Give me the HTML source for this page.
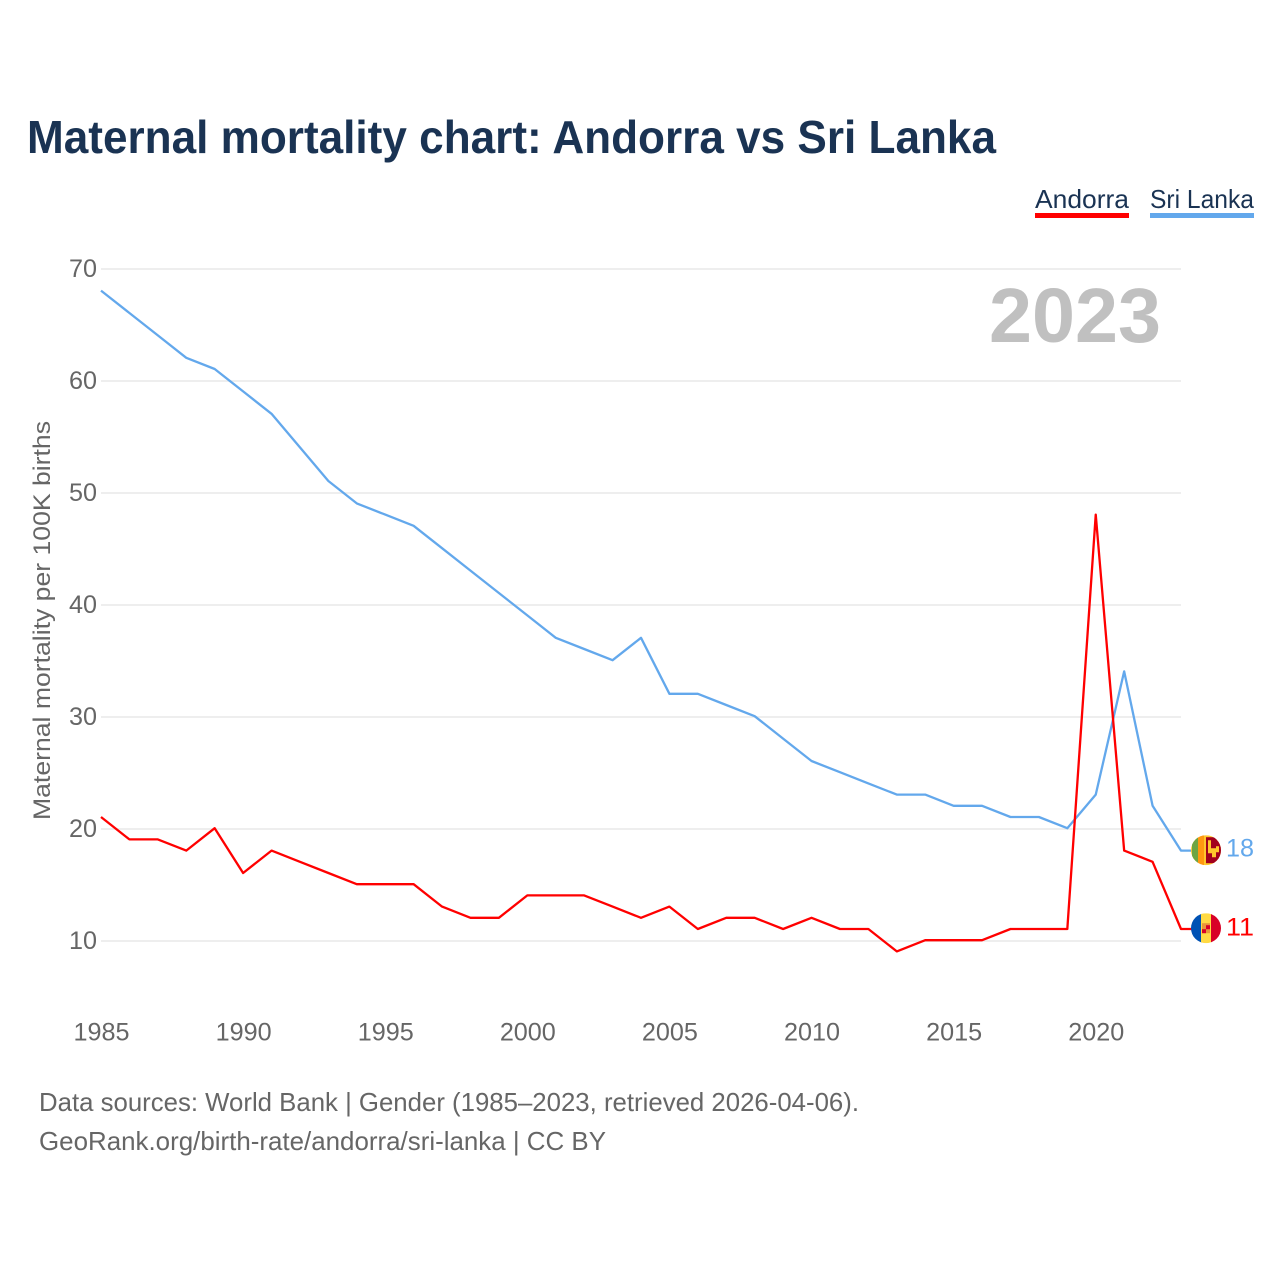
<!DOCTYPE html>
<html lang="en">
<head>
<meta charset="utf-8">
<title>Maternal mortality chart: Andorra vs Sri Lanka</title>
<style>
html,body{margin:0;padding:0;background:#fff;}
svg{display:block;font-family:"Liberation Sans",sans-serif;}
</style>
</head>
<body>
<svg id="chart" xmlns="http://www.w3.org/2000/svg" width="1280" height="1280" viewBox="0 0 1280 1280">
  <rect width="1280" height="1280" fill="#fff"/>
  <text x="27" y="153" font-size="46" font-weight="700" fill="#1a3353" textLength="969" lengthAdjust="spacingAndGlyphs">Maternal mortality chart: Andorra vs Sri Lanka</text>

  <g>
    <text x="1035" y="208" font-size="26" fill="#1a3353" textLength="94" lengthAdjust="spacingAndGlyphs">Andorra</text>
    <rect x="1035" y="213" width="94" height="5" fill="#ff0000"/>
  </g>
  <g>
    <text x="1150" y="208" font-size="26" fill="#1a3353" textLength="104" lengthAdjust="spacingAndGlyphs">Sri Lanka</text>
    <rect x="1150" y="213" width="104" height="5" fill="#63a8ec"/>
  </g>

  <g id="grid"></g>
  <g id="yticks"></g>
  <g id="xticks"></g>

  <text transform="translate(50,820) rotate(-90)" font-size="24" fill="#666" textLength="399" lengthAdjust="spacingAndGlyphs">Maternal mortality per 100K births</text>
  <text x="989" y="342" font-size="77" font-weight="700" fill="#c0c0c0" textLength="172" lengthAdjust="spacingAndGlyphs">2023</text>

  <g id="series"></g>

  <defs>
    <clipPath id="clip-lk"><circle id="clip-lk-c" cx="1206" cy="850" r="15"/></clipPath>
    <clipPath id="clip-ad"><circle id="clip-ad-c" cx="1206" cy="928" r="15"/></clipPath>
  </defs>
  <g id="flag-lk" clip-path="url(#clip-lk)">
    <rect x="1191" y="835" width="30" height="30" fill="#ffc72c"/>
    <rect x="1192" y="835" width="6" height="30" fill="#6da544"/>
    <rect x="1198" y="835" width="6" height="30" fill="#ff9811"/>
    <rect x="1206" y="837" width="15" height="26" fill="#a2001d"/>
    <path d="M1208 840h3v8h5v-2h3v6h-3v5h-4v-4h-4z" fill="#ffc72c"/>
  </g>
  <g id="flag-ad" clip-path="url(#clip-ad)">
    <rect x="1191" y="913" width="11" height="30" fill="#0052b4"/>
    <rect x="1201" y="913" width="11" height="30" fill="#ffda44"/>
    <rect x="1211" y="913" width="11" height="30" fill="#d80027"/>
    <rect x="1202" y="923" width="8" height="10" fill="#e8973a"/>
    <rect x="1206" y="925" width="4" height="4" fill="#d80027"/>
    <rect x="1202" y="929" width="4" height="4" fill="#d80027"/>
  </g>

  <text x="39" y="1111" font-size="26" fill="#666" textLength="820" lengthAdjust="spacingAndGlyphs">Data sources: World Bank | Gender (1985–2023, retrieved 2026-04-06).</text>
  <text x="39" y="1150" font-size="26" fill="#666" textLength="567" lengthAdjust="spacingAndGlyphs">GeoRank.org/birth-rate/andorra/sri-lanka | CC BY</text>
</svg>
<script>
var years = [1985,1986,1987,1988,1989,1990,1991,1992,1993,1994,1995,1996,1997,1998,1999,2000,2001,2002,2003,2004,2005,2006,2007,2008,2009,2010,2011,2012,2013,2014,2015,2016,2017,2018,2019,2020,2021,2022,2023];
var sriLanka = [68,66,64,62,61,59,57,54,51,49,48,47,45,43,41,39,37,36,35,37,32,32,31,30,28,26,25,24,23,23,22,22,21,21,20,23,34,22,18];
var andorra = [21,19,19,18,20,16,18,17,16,15,15,15,13,12,12,14,14,14,13,12,13,11,12,12,11,12,11,11,9,10,10,10,11,11,11,48,18,17,11];
var yTickValues = [10,20,30,40,50,60,70];
var xTickValues = [1985,1990,1995,2000,2005,2010,2015,2020];

var NS = 'http://www.w3.org/2000/svg';
function xScale(year){ return 101 + (year - 1985) * (1080 / 38); }
function yScale(v){ return 941 - (v - 10) * 11.2; }
function lineY(v){ return yScale(v) - 0.8; }
function make(tag, attrs, parent){
  var el = document.createElementNS(NS, tag);
  for (var k in attrs) el.setAttribute(k, attrs[k]);
  parent.appendChild(el);
  return el;
}
var grid = document.getElementById('grid');
var yticks = document.getElementById('yticks');
var xticks = document.getElementById('xticks');
var seriesGroup = document.getElementById('series');
var root = document.getElementById('chart');

yTickValues.forEach(function(v){
  var line = make('line', {x1:101, x2:1181, y1:yScale(v), y2:yScale(v), stroke:'#eeeeee', 'stroke-width':2}, grid);
  
  
  var t = make('text', {x:69, y:yScale(v)+8, 'font-size':25, fill:'#666', textLength:28, lengthAdjust:'spacingAndGlyphs'}, yticks);
  t.textContent = String(v);
  
  
});
xTickValues.forEach(function(y){
  var t = make('text', {x:xScale(y)-27.5, y:1040.5, 'font-size':25, fill:'#666', textLength:56, lengthAdjust:'spacingAndGlyphs'}, xticks);
  t.textContent = String(y);
  
  
});
function pathFor(values){
  var d = values.map(function(v, i){
    return (i ? 'L' : 'M') + xScale(years[i]).toFixed(2) + ' ' + lineY(v).toFixed(2);
  }).join(' ');
  return d + ' H1192';
}
var lkLine = make('path', {d:pathFor(sriLanka), fill:'none', stroke:'#63a8ec', 'stroke-width':2.3, 'stroke-linejoin':'round'}, seriesGroup);


var adLine = make('path', {d:pathFor(andorra), fill:'none', stroke:'#ff0000', 'stroke-width':2.3, 'stroke-linejoin':'round'}, seriesGroup);



var lkLast = sriLanka[sriLanka.length - 1];
var adLast = andorra[andorra.length - 1];
var lkEnd = make('text', {x:1226, y:lineY(lkLast)+6, 'font-size':25, fill:'#63a8ec', textLength:28, lengthAdjust:'spacingAndGlyphs'}, root);
lkEnd.textContent = String(lkLast);


var adEnd = make('text', {x:1226, y:lineY(adLast)+6.5, 'font-size':25, fill:'#ff0000', textLength:28, lengthAdjust:'spacingAndGlyphs'}, root);
adEnd.textContent = String(adLast);


document.getElementById('flag-lk').setAttribute('transform', 'translate(0,' + (lineY(lkLast) - 850.4) + ')');
document.getElementById('flag-ad').setAttribute('transform', 'translate(0,' + (lineY(adLast) - 928.8) + ')');
</script>
</body>
</html>
